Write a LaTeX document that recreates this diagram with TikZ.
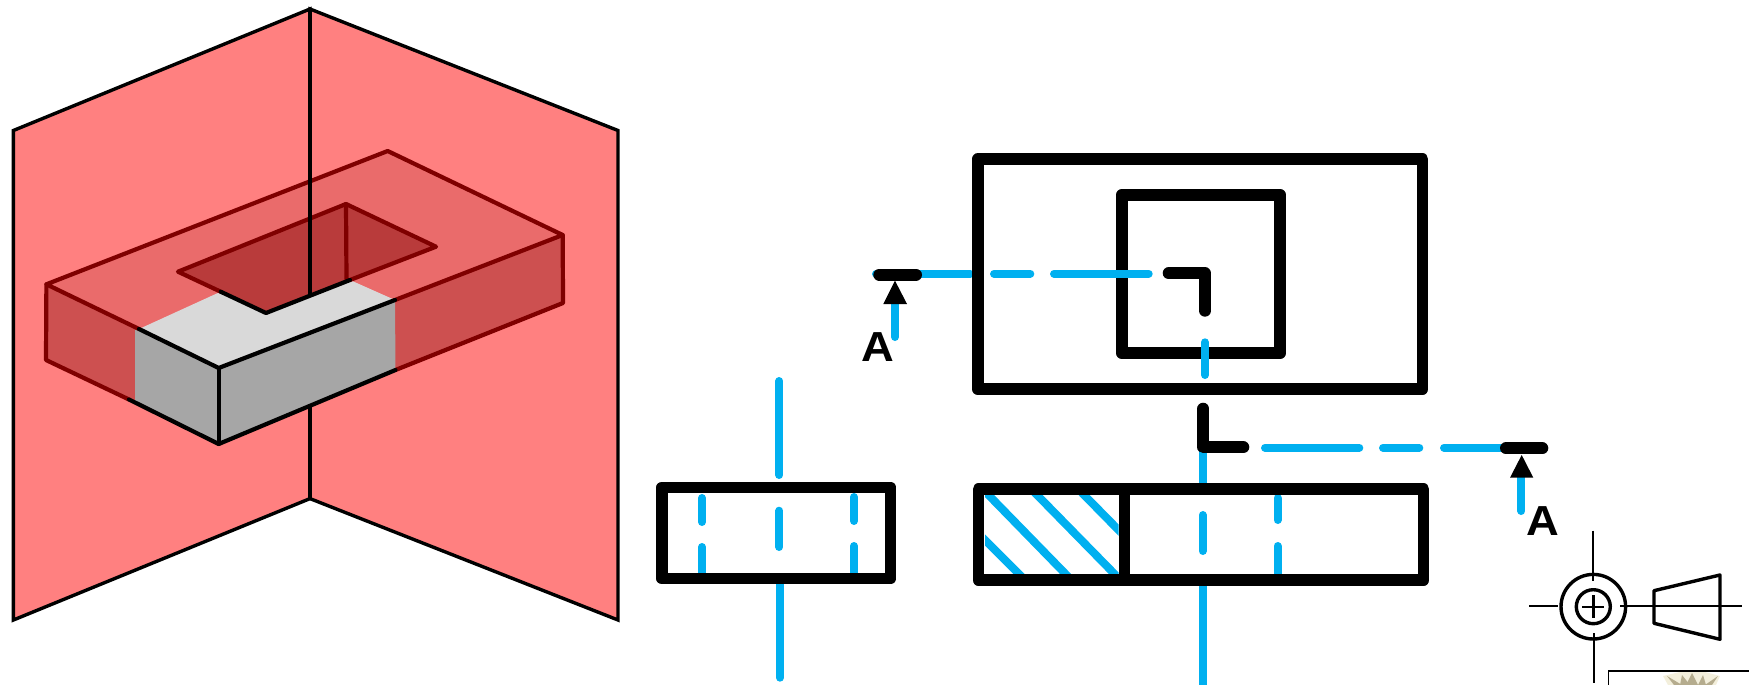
\documentclass[tikz,border=0pt]{standalone}
\usepackage{fontspec}
\setmainfont{Liberation Sans}
\definecolor{panelred}{HTML}{FF8080}
\definecolor{darkred}{HTML}{7F0000}
\definecolor{topred}{HTML}{EA6B6B}
\definecolor{sidered}{HTML}{CD5050}
\definecolor{holered}{HTML}{B93B3B}
\definecolor{lightgrey}{HTML}{D9D9D9}
\definecolor{midgrey}{HTML}{A6A6A6}
\definecolor{cutblue}{HTML}{00B0F0}
\definecolor{cresttan}{HTML}{B5AC8E}
\definecolor{crestpale}{HTML}{F3EFDC}
\tikzset{
  panel/.style={fill=panelred,draw=black,line width=3.4pt,line join=miter},
  redline/.style={draw=darkred,line width=4.2pt,line cap=round,line join=round},
  blackline/.style={draw=black,line width=4.2pt,line cap=round,line join=round},
  thinblack/.style={draw=black,line width=3.6pt},
  heavy/.style={draw=black,line width=11.7pt,line join=round},
  planeline/.style={draw=black,line width=12pt,line cap=round,line join=round},
  bluedash/.style={draw=cutblue,line width=8pt,line cap=round},
  hatchline/.style={draw=cutblue,line width=8pt},
  tip/.style={fill=black,draw=none},
  viewlabel/.style={font=\fontsize{42}{42}\selectfont\bfseries,anchor=base,inner sep=0pt,outer sep=0pt,xscale=1.08},
  symline/.style={draw=black,line width=2.4pt},
  symthick/.style={draw=black,line width=3.4pt,line join=round}
}
\begin{document}
\begin{tikzpicture}[x=1pt,y=-1pt]
\useasboundingbox (0,0) rectangle (1749,685);
% --- projection planes ---
\path[panel] (13.4,130.5) -- (310,9) -- (310,498.6) -- (13.4,620) -- cycle;
\path[panel] (310,9) -- (618,130.5) -- (618,620) -- (310,498.6) -- cycle;
\draw[thinblack] (310,9) -- (310,498.6);
% --- block faces ---
\coordinate (A) at (46.4,284.3);
\coordinate (B) at (387.7,151);
\coordinate (R) at (562.7,235);
\coordinate (F) at (218.7,368);
\coordinate (Ab) at (46,360);
\coordinate (Fb) at (218.7,444);
\coordinate (Rb) at (563,303);
\coordinate (L) at (178,271.7);
\coordinate (NB) at (346,204);
\coordinate (NR) at (436,246.7);
\coordinate (NF) at (266,313);
\coordinate (NV) at (346.5,279);
\coordinate (GA) at (139,329);
\coordinate (GB) at (220.7,291.7);
\coordinate (GC) at (350,280);
\coordinate (GD) at (395,300);
\coordinate (GE) at (395.5,370);
\coordinate (GF) at (129,399.5);
\fill[topred] (A) -- (B) -- (R) -- (F) -- cycle;
\fill[holered] (L) -- (NB) -- (NR) -- (NF) -- cycle;
\fill[sidered] (A) -- (Ab) -- (Fb) -- (F) -- cycle;
\fill[sidered] (F) -- (Fb) -- (Rb) -- (R) -- cycle;
\fill[lightgrey] (GA) -- (GB) -- (NF) -- (GC) -- (GD) -- (F) -- cycle;
\fill[midgrey] (135,327) -- (F) -- (Fb) -- (135,403) -- cycle;
\fill[midgrey] (F) -- (GD) -- (GE) -- (Fb) -- cycle;
% red outlines
\draw[redline] (GA) -- (A) -- (B) -- (R) -- (GD);
\draw[redline] (A) -- (Ab) -- (GF);
\draw[redline] (R) -- (Rb) -- (GE);
\draw[redline] (GB) -- (L) -- (NB) -- (NR) -- (GC);
\draw[redline] (NB) -- (NV);
% vertical fold visible through the block
\draw[thinblack] (310,9) -- (310,295);
\draw[thinblack] (310,405) -- (310,498.6);
% black outlines
\draw[blackline] (GA) -- (F) -- (GD);
\draw[blackline] (GF) -- (Fb) -- (GE);
\draw[blackline] (F) -- (Fb);
\draw[blackline] (GB) -- (NF) -- (GC);
% --- left view ---
\draw[bluedash] (779.3,381) -- (779.3,475);
\draw[bluedash] (779.3,510.7) -- (779.3,547);
\draw[bluedash] (780,584) -- (780,677.7);
\draw[bluedash] (702,498) -- (702,522);
\draw[bluedash] (702,547) -- (702,578);
\draw[bluedash] (854,497) -- (854,521);
\draw[bluedash] (854,546) -- (854,578);
\node[heavy,rectangle,minimum width=228.7pt,minimum height=91pt,inner sep=0pt,anchor=center] (sideview) at (776.2,533) {};
% --- top view ---
\draw[bluedash] (876,273.7) -- (970.3,273.7);
\draw[bluedash] (895,304) -- (895,337);
\node[heavy,rectangle,minimum width=444.8pt,minimum height=230pt,inner sep=0pt] (topouter) at (1200.1,274.2) {};
\node[heavy,rectangle,minimum width=158.3pt,minimum height=158.6pt,inner sep=0pt] (topinner) at (1201,274) {};
\draw[bluedash] (1205,342.3) -- (1205,375);
\draw[bluedash] (994,273.7) -- (1030.3,273.7);
\draw[bluedash] (1054,273.7) -- (1148.7,273.7);
% cutting plane A
\draw[planeline] (879.3,274.7) -- (916,274.7);
\fill[tip] (895,280.7) -- (907,304) -- (883.3,304) -- cycle;
\node[viewlabel] (labelA1) at (878.3,361.7) {A};
\draw[planeline] (1168.7,273.3) -- (1205,273.3) -- (1205,310.7);
% --- section view ---
\draw[bluedash] (1202.7,447) -- (1202.7,486);
\draw[bluedash] (1202.7,515) -- (1202.7,551);
\draw[bluedash] (1202.7,584) -- (1202.7,700);
\draw[bluedash] (1277.5,498) -- (1277.5,520);
\draw[bluedash] (1277.5,546) -- (1277.5,578);
\begin{scope}
\clip (985,495) rectangle (1118.7,574.3);
\draw[hatchline] (978.5,484.7) -- (1076,584.7);
\draw[hatchline] (1027,484.7) -- (1125,584.7);
\draw[hatchline] (1074,484.7) -- (1129,540.7);
\draw[hatchline] (975,530) -- (1030,585);
\end{scope}
\node[heavy,rectangle,minimum width=445pt,minimum height=91pt,inner sep=0pt] (section) at (1201,534.7) {};
\draw[draw=black,line width=11.7pt] (1124.5,489.2) -- (1124.5,580.2);
% cutting plane B
\draw[bluedash] (1265,447.7) -- (1359.3,447.7);
\draw[bluedash] (1383,447.7) -- (1419.3,447.7);
\draw[bluedash] (1444,447.7) -- (1510,447.7);
\draw[bluedash] (1521.3,477) -- (1521.3,511);
\draw[planeline] (1203.3,408.7) -- (1203.3,447.3) -- (1243.3,447.3);
\draw[planeline] (1506,448.3) -- (1542.3,448.3);
\fill[tip] (1521.7,455) -- (1533.3,477.7) -- (1510,477.7) -- cycle;
\node[viewlabel] (labelA2) at (1542.8,535.3) {A};
% --- projection symbol ---
\node[symthick,circle,minimum size=64.6pt,inner sep=0pt] (symouter) at (1593.3,606.7) {};
\node[symthick,circle,minimum size=34pt,inner sep=0pt] (syminner) at (1593.3,606.7) {};
\draw[symline] (1582.3,606.7) -- (1604.3,606.7);
\draw[symline] (1593.3,595) -- (1593.3,618);
\draw[symline] (1593,530.7) -- (1593,581);
\draw[symline] (1594,633.3) -- (1594,683.3);
\draw[symline] (1529.3,606) -- (1557.7,606);
\draw[symline] (1620,606) -- (1742.3,606);
\draw[symthick] (1654,590.7) -- (1720,575) -- (1720,639.3) -- (1654,623.3) -- cycle;
% --- truncated title block with crest ---
\fill[crestpale] (1663,676) -- (1680,672) -- (1705,672) -- (1720,676) -- (1716,685) -- (1668,685) -- cycle;
\fill[cresttan] (1667,676) -- (1682,685) -- (1674,685) -- cycle;
\fill[cresttan] (1682,675) -- (1690,685) -- (1680,685) -- cycle;
\fill[cresttan] (1692,673) -- (1698,685) -- (1686,685) -- cycle;
\fill[cresttan] (1703,675) -- (1706,685) -- (1698,685) -- cycle;
\fill[cresttan] (1718,676) -- (1712,685) -- (1705,685) -- cycle;
\draw[draw=black,line width=1.6pt] (1608.3,690) -- (1608.3,671) -- (1755,671);
\end{tikzpicture}
\end{document}
